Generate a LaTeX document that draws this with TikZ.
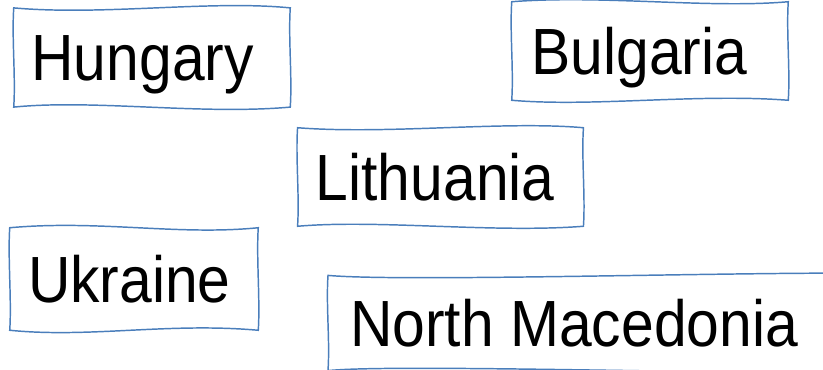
\documentclass[tikz,border=0pt]{standalone}
\usepackage{fontspec}
\setmainfont[FakeStretch=0.9]{Liberation Sans}
\definecolor{landblue}{HTML}{4A7EBB}
\tikzset{
  land/.style={inner sep=0pt,font=\fontsize{49}{56}\selectfont,
    text height=35pt,text depth=0pt},
  rim/.style={draw=landblue,line width=1.1pt},
}
\begin{document}
\begin{tikzpicture}[x=0.75pt,y=-0.75pt]
  \useasboundingbox (0,0) rectangle (823,370);
  \clip (0,0) rectangle (823,370);
  % countries
  \node[land,minimum width=207pt,minimum height=74pt] (hungary) at (152,57.5) {Hungary\kern14pt};
  \node[land,minimum width=207pt,minimum height=73.5pt] (bulgaria) at (650,51) {Bulgaria\kern16pt};
  \node[land,minimum width=214pt,minimum height=73.5pt] (lithuania) at (440.5,177) {Lithuania\kern8pt};
  \node[land,minimum width=186pt,minimum height=76.5pt] (ukraine) at (134,279) {Ukraine\kern7pt};
  \node[land,anchor=west,minimum height=71pt,inner xsep=16.5pt] (macedonia) at (328,323) {North Macedonia\kern90pt};
  % hand drawn frames
  \foreach \n/\w in {hungary/8,bulgaria/-7,lithuania/7,ukraine/-8,macedonia/8} {
    \draw[rim] (\n.north west) .. controls +(90,\w) and +(-80,-\w) .. (\n.north east)
      .. controls +(-2,30) and +(2,-30) .. (\n.south east)
      .. controls +(-90,\w) and +(80,-\w) .. (\n.south west)
      .. controls +(2,-30) and +(-2,30) .. cycle;
  }
\end{tikzpicture}
\end{document}
